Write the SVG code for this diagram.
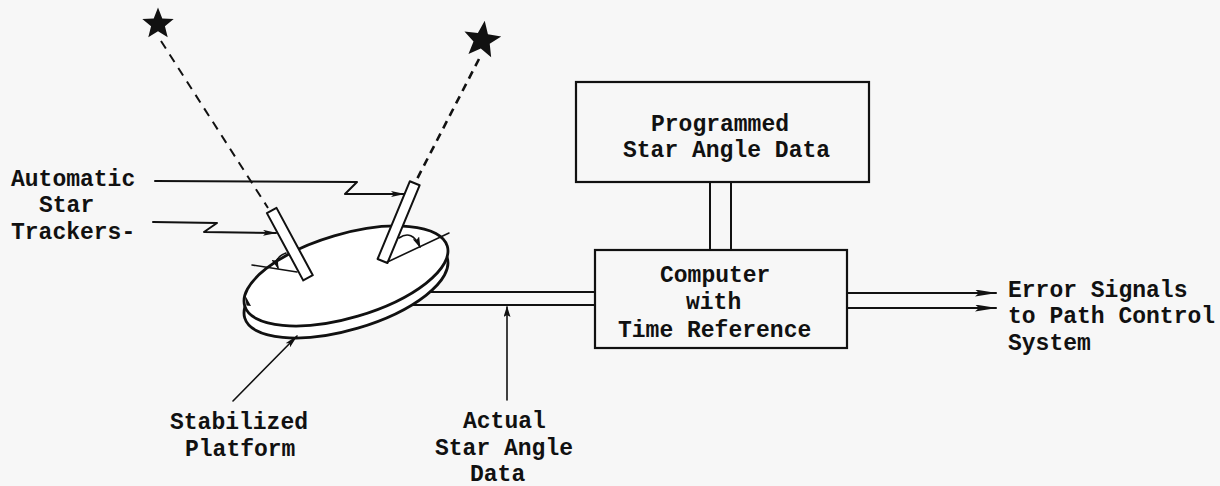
<svg xmlns="http://www.w3.org/2000/svg" xmlns:xlink="http://www.w3.org/1999/xlink" width="1220" height="486" viewBox="0 0 1220 486">
  <style>
    .ln { fill: none; stroke: #111; stroke-width: 2; stroke-linecap: round; stroke-linejoin: round; }
    .thin { fill: none; stroke: #111; stroke-width: 1.6; stroke-linecap: round; stroke-linejoin: round; }
    .box { fill: none; stroke: #111; stroke-width: 2.2; }
    .solid { fill: #fff; stroke: #111; stroke-width: 2; stroke-linejoin: round; }
    .disc { fill: #fff; stroke: #111; stroke-width: 2.8; }
    .dash1 { fill: none; stroke: #111; stroke-width: 2; stroke-dasharray: 9 7; }
    .dash2 { fill: none; stroke: #111; stroke-width: 2.6; stroke-dasharray: 8 6; }
    text { font-family: "Liberation Mono", "DejaVu Sans Mono", monospace; font-weight: bold; font-size: 23px; fill: #111; }
  </style>
  <defs>
    <path id="star" d="M0,-10 L2.6,-3.3 L9.51,-3.09 L4.2,1.4 L5.88,8.09 L0,4.4 L-5.88,8.09 L-4.2,1.4 L-9.51,-3.09 L-2.6,-3.3 Z"/>
    <marker id="arrow" viewBox="0 0 14 6" refX="13" refY="3" markerWidth="14" markerHeight="6" orient="auto" markerUnits="userSpaceOnUse">
      <path d="M0,0 L14,3 L0,6 L3,3 Z" fill="#111"/>
    </marker>
    <marker id="arrow-small" viewBox="0 0 11 7" refX="10" refY="3.5" markerWidth="11" markerHeight="7" orient="auto" markerUnits="userSpaceOnUse">
      <path d="M0,0 L11,3.5 L0,7 L2,3.5 Z" fill="#111"/>
    </marker>
    <marker id="arrow-long" viewBox="0 0 22 7" refX="21" refY="3.5" markerWidth="22" markerHeight="7" orient="auto" markerUnits="userSpaceOnUse">
      <path d="M0,0 L22,3.5 L0,7 L4,3.5 Z" fill="#111"/>
    </marker>
  </defs>

  <rect width="1220" height="486" fill="#f7f7f7"/>

  <!-- two guide stars and their sight lines -->
  <g id="stars">
    <use xlink:href="#star" href="#star" transform="translate(158,24) scale(1.65)" fill="#111"/>
    <use xlink:href="#star" href="#star" transform="translate(482,40) rotate(8) scale(1.95)" fill="#111"/>
    <path class="dash1" d="M161,41 L268,208"/>
    <path class="dash2" d="M479,59 L416,181"/>
  </g>

  <!-- stabilized platform: rim (lower disc) and top surface -->
  <g id="platform">
    <ellipse class="disc" cx="346" cy="288" rx="105.6" ry="41.8" transform="rotate(-16.4 346 288)"/>
    <ellipse class="disc" cx="346" cy="276" rx="105.6" ry="41.8" transform="rotate(-16.4 346 276)"/>
    <path d="M245,295 L251,306 L246.5,305.5 Z" fill="#111"/>
  </g>

  <!-- star trackers mounted on the platform, with their angle marks -->
  <g id="tracker-left">
    <path class="thin" d="M252,265 L297,272"/>
    <path class="thin" d="M286,253 Q274,257 278,268" marker-end="url(#arrow-small)"/>
    <polygon class="solid" points="266.9,213.1 276.5,207.9 312.8,275.2 303.2,280.4"/>
  </g>
  <g id="tracker-right">
    <polygon class="solid" points="409.8,181.3 419.6,185.3 387.4,263 377.6,259"/>
    <path class="thin" d="M387.4,262 L449,233"/>
    <path class="thin" d="M399,238 Q412,229 420,247" marker-end="url(#arrow-small)"/>
  </g>

  <!-- program store -->
  <g id="programmed-data">
    <rect class="box" x="576" y="82" width="293" height="100"/>
    <text x="651" y="131">Programmed</text>
    <text x="623" y="157">Star Angle Data</text>
  </g>

  <!-- computer -->
  <g id="computer">
    <rect class="box" x="595" y="250" width="252" height="98"/>
    <text x="660" y="282">Computer</text>
    <text x="686" y="309">with</text>
    <text x="618" y="337">Time Reference</text>
  </g>

  <!-- labels -->
  <g id="label-trackers">
    <text x="11" y="186">Automatic</text>
    <text x="39" y="212">Star</text>
    <text x="11" y="239">Trackers-</text>
  </g>
  <g id="label-platform">
    <text x="170" y="429">Stabilized</text>
    <text x="185" y="456">Platform</text>
  </g>
  <g id="label-actual">
    <text x="463" y="428">Actual</text>
    <text x="435" y="455">Star Angle</text>
    <text x="470" y="481">Data</text>
  </g>
  <g id="label-output">
    <text x="1008" y="297">Error Signals</text>
    <text x="1008" y="323">to Path Control</text>
    <text x="1008" y="350">System</text>
  </g>

  <!-- connectors -->
  <g id="connectors">
    <path class="ln" d="M155,181 L357,182 L345,194 L404,194" marker-end="url(#arrow)"/>
    <path class="ln" d="M153,222 L217,223 L204,232 L276,233" marker-end="url(#arrow)"/>
    <path class="thin" d="M233,401 L297,336" marker-end="url(#arrow)"/>
    <path class="ln" d="M430,292 L595,292"/>
    <path class="ln" d="M412,305 L595,305"/>
    <path class="thin" d="M507,400 L507,307" marker-end="url(#arrow-small)"/>
    <path class="ln" d="M710,182 L710,250"/>
    <path class="ln" d="M731,182 L731,250"/>
    <path class="ln" d="M847,293 L996,293" marker-end="url(#arrow-long)"/>
    <path class="ln" d="M847,308 L996,308" marker-end="url(#arrow-long)"/>
  </g>
</svg>
